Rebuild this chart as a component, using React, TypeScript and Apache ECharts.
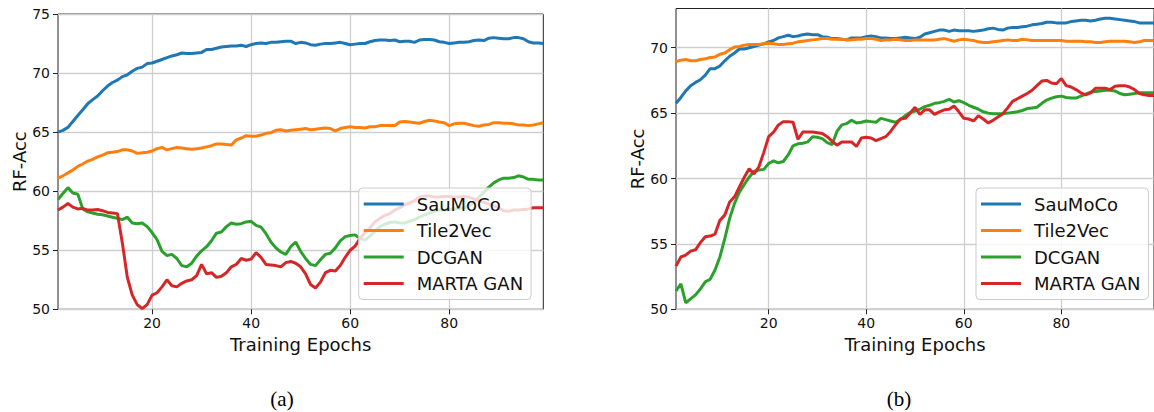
import React, { useEffect, useRef } from "react";
import * as echarts from "echarts";

const epochs = Array.from({ length: 99 }, (_, i) => i + 1);
const seriesNames = ["SauMoCo", "Tile2Vec", "DCGAN", "MARTA GAN"];
const seriesColors = ["#1f77b4", "#ff7f0e", "#2ca02c", "#d62728"];
const xTicks = [20, 40, 60, 80];
const yTicksA = [50, 55, 60, 65, 70, 75];
const yTicksB = [50, 55, 60, 65, 70];
const captions = ["(a)", "(b)"];

// Chart (a)
const aSauMoCo = [65.0, 65.15, 65.4, 65.9, 66.4, 66.9, 67.4, 67.75, 68.05, 68.5, 68.9, 69.2, 69.4, 69.7, 69.85, 70.15, 70.4, 70.5, 70.8, 70.85, 71.0, 71.15, 71.3, 71.45, 71.55, 71.7, 71.65, 71.65, 71.7, 71.75, 72.0, 72.0, 72.1, 72.2, 72.25, 72.3, 72.3, 72.35, 72.25, 72.4, 72.5, 72.55, 72.5, 72.6, 72.6, 72.65, 72.7, 72.7, 72.5, 72.6, 72.55, 72.4, 72.35, 72.45, 72.5, 72.5, 72.55, 72.6, 72.5, 72.4, 72.45, 72.5, 72.5, 72.65, 72.75, 72.8, 72.8, 72.75, 72.8, 72.65, 72.7, 72.7, 72.6, 72.8, 72.85, 72.85, 72.8, 72.65, 72.6, 72.5, 72.55, 72.6, 72.6, 72.65, 72.75, 72.8, 72.75, 72.95, 73.0, 72.95, 72.9, 72.9, 73.0, 73.0, 72.9, 72.65, 72.55, 72.55, 72.5];
const aTile2Vec = [61.1, 61.3, 61.55, 61.8, 62.1, 62.3, 62.55, 62.7, 62.9, 63.05, 63.25, 63.3, 63.35, 63.5, 63.5, 63.4, 63.2, 63.25, 63.3, 63.4, 63.6, 63.7, 63.5, 63.6, 63.7, 63.65, 63.6, 63.55, 63.6, 63.65, 63.75, 63.85, 64.0, 64.0, 63.95, 63.9, 64.35, 64.5, 64.7, 64.65, 64.65, 64.75, 64.9, 64.95, 65.15, 65.2, 65.1, 65.15, 65.2, 65.25, 65.3, 65.2, 65.25, 65.3, 65.35, 65.3, 65.1, 65.3, 65.4, 65.45, 65.4, 65.4, 65.35, 65.45, 65.45, 65.55, 65.55, 65.55, 65.55, 65.85, 65.9, 65.85, 65.8, 65.75, 65.9, 66.0, 65.95, 65.85, 65.8, 65.55, 65.7, 65.75, 65.75, 65.65, 65.55, 65.5, 65.6, 65.65, 65.8, 65.8, 65.75, 65.75, 65.7, 65.6, 65.6, 65.55, 65.6, 65.7, 65.8];
const aDCGAN = [59.3, 59.8, 60.3, 59.85, 59.75, 58.5, 58.25, 58.15, 58.05, 58.0, 57.9, 57.8, 57.7, 57.6, 57.8, 57.3, 57.25, 57.3, 57.0, 56.5, 55.9, 54.9, 54.55, 54.65, 54.3, 53.7, 53.6, 53.9, 54.5, 54.95, 55.3, 55.8, 56.45, 56.55, 57.0, 57.3, 57.2, 57.25, 57.4, 57.45, 57.1, 56.95, 56.4, 55.7, 55.2, 54.85, 54.65, 55.3, 55.7, 54.9, 54.3, 53.8, 53.7, 54.2, 54.65, 54.75, 55.2, 55.8, 56.15, 56.25, 56.3, 56.0, 55.85, 56.2, 56.6, 57.0, 57.2, 57.35, 57.4, 57.3, 57.3, 57.45, 57.6, 57.8, 58.0, 58.15, 58.3, 58.4, 58.4, 58.45, 58.5, 58.55, 58.6, 58.75, 59.1, 59.5, 59.9, 60.35, 60.7, 60.95, 61.1, 61.1, 61.15, 61.3, 61.2, 61.0, 61.0, 60.95, 60.95];
const aMartaGan = [58.4, 58.65, 58.95, 58.65, 58.5, 58.55, 58.4, 58.4, 58.45, 58.35, 58.2, 58.15, 58.1, 55.6, 52.7, 51.2, 50.4, 50.05, 50.4, 51.2, 51.4, 51.9, 52.5, 52.0, 51.9, 52.2, 52.4, 52.5, 52.85, 53.8, 53.0, 53.1, 52.7, 52.8, 53.1, 53.6, 53.8, 54.3, 54.15, 54.25, 54.8, 54.4, 53.8, 53.75, 53.7, 53.6, 53.95, 54.05, 53.9, 53.6, 53.0, 52.1, 51.8, 52.3, 53.1, 53.3, 53.25, 53.7, 54.4, 55.0, 55.35, 56.0, 56.5, 56.9, 57.4, 57.7, 57.95, 58.1, 58.4, 58.6, 58.85, 59.0, 59.2, 59.5, 59.6, 59.6, 59.5, 59.5, 59.55, 59.55, 59.5, 59.5, 59.55, 59.5, 59.35, 59.2, 59.05, 58.9, 58.75, 58.6, 58.35, 58.3, 58.4, 58.4, 58.45, 58.5, 58.6, 58.6, 58.6];

// Chart (b)
const bSauMoCo = [65.75, 66.2, 66.7, 67.1, 67.35, 67.55, 67.9, 68.4, 68.4, 68.6, 69.0, 69.35, 69.6, 69.9, 69.9, 70.0, 70.1, 70.2, 70.3, 70.45, 70.55, 70.75, 70.85, 70.95, 70.85, 70.9, 71.0, 71.05, 71.0, 71.0, 70.85, 70.8, 70.7, 70.7, 70.65, 70.6, 70.75, 70.75, 70.75, 70.85, 70.9, 70.85, 70.75, 70.75, 70.7, 70.7, 70.75, 70.8, 70.75, 70.7, 70.8, 71.05, 71.15, 71.25, 71.35, 71.35, 71.25, 71.35, 71.3, 71.3, 71.3, 71.25, 71.3, 71.35, 71.45, 71.5, 71.4, 71.35, 71.5, 71.55, 71.55, 71.6, 71.65, 71.75, 71.8, 71.85, 71.95, 71.95, 71.9, 71.9, 71.9, 72.0, 72.05, 72.1, 72.1, 72.05, 72.1, 72.2, 72.25, 72.25, 72.2, 72.15, 72.1, 72.05, 72.0, 71.9, 71.9, 71.9, 71.9];
const bTile2Vec = [68.95, 69.05, 69.1, 69.0, 69.0, 69.1, 69.15, 69.25, 69.3, 69.5, 69.6, 69.85, 70.05, 70.1, 70.2, 70.25, 70.25, 70.25, 70.3, 70.35, 70.3, 70.25, 70.25, 70.3, 70.35, 70.45, 70.5, 70.55, 70.6, 70.65, 70.7, 70.7, 70.65, 70.65, 70.65, 70.6, 70.6, 70.65, 70.65, 70.7, 70.7, 70.65, 70.55, 70.6, 70.6, 70.65, 70.6, 70.55, 70.55, 70.6, 70.6, 70.6, 70.6, 70.6, 70.65, 70.7, 70.6, 70.5, 70.6, 70.65, 70.6, 70.55, 70.45, 70.4, 70.4, 70.45, 70.5, 70.55, 70.6, 70.55, 70.55, 70.65, 70.6, 70.55, 70.55, 70.55, 70.55, 70.55, 70.55, 70.55, 70.5, 70.5, 70.5, 70.5, 70.45, 70.45, 70.4, 70.4, 70.45, 70.5, 70.5, 70.5, 70.5, 70.45, 70.4, 70.45, 70.55, 70.55, 70.55];
const bDCGAN = [51.4, 51.95, 50.5, 50.8, 51.1, 51.55, 52.1, 52.3, 53.0, 54.0, 55.4, 56.95, 58.1, 58.95, 59.55, 60.1, 60.55, 60.65, 60.7, 61.15, 61.35, 61.2, 61.3, 61.8, 62.5, 62.65, 62.7, 62.8, 63.2, 63.15, 63.05, 62.75, 62.6, 63.6, 64.1, 64.2, 64.45, 64.25, 64.3, 64.4, 64.35, 64.3, 64.6, 64.5, 64.4, 64.3, 64.5, 64.8, 65.05, 65.15, 65.3, 65.5, 65.6, 65.75, 65.8, 65.9, 66.05, 65.85, 65.95, 65.8, 65.6, 65.45, 65.3, 65.1, 65.0, 64.95, 64.95, 64.95, 65.0, 65.05, 65.1, 65.2, 65.35, 65.4, 65.45, 65.75, 66.0, 66.15, 66.25, 66.3, 66.2, 66.15, 66.15, 66.3, 66.45, 66.6, 66.65, 66.7, 66.75, 66.75, 66.7, 66.5, 66.4, 66.45, 66.5, 66.55, 66.55, 66.55, 66.55];
const bMartaGan = [53.3, 54.0, 54.15, 54.45, 54.55, 55.1, 55.55, 55.6, 55.75, 56.8, 57.2, 58.2, 58.6, 59.35, 60.1, 60.75, 60.35, 60.9, 62.0, 63.2, 63.55, 64.1, 64.35, 64.35, 64.3, 63.0, 63.55, 63.55, 63.55, 63.5, 63.45, 63.2, 62.85, 62.55, 62.8, 62.8, 62.8, 62.45, 63.1, 63.15, 63.1, 62.9, 63.05, 63.2, 63.6, 64.1, 64.55, 64.6, 65.0, 65.45, 64.9, 65.25, 65.25, 64.9, 65.1, 65.25, 65.3, 65.55, 65.1, 64.6, 64.55, 64.4, 64.8, 64.55, 64.25, 64.45, 64.7, 64.95, 65.4, 65.9, 66.1, 66.3, 66.5, 66.75, 67.1, 67.45, 67.5, 67.3, 67.25, 67.65, 67.1, 67.0, 66.8, 66.55, 66.4, 66.55, 66.9, 66.9, 66.9, 66.8, 67.05, 67.1, 67.1, 67.0, 66.8, 66.5, 66.4, 66.35, 66.35];

const chartA = [aSauMoCo, aTile2Vec, aDCGAN, aMartaGan];
const chartB = [bSauMoCo, bTile2Vec, bDCGAN, bMartaGan];

const FONT = "'DejaVu Sans', sans-serif";
const AXIS_COLOR = "#222";
const GRID_COLOR = "#cfcfcf";

function toPairs(vals: number[]) {
  return vals.map((v, i) => [epochs[i], v]);
}

function makeXAxis(gridIndex: number) {
  return {
    type: "value",
    gridIndex,
    min: 1,
    max: 99,
    axisLine: { show: false },
    axisTick: { show: true, customValues: xTicks, length: 5, lineStyle: { color: AXIS_COLOR, width: 1 } },
    axisLabel: { customValues: xTicks, fontSize: 14, color: "#111", margin: 7, fontFamily: FONT },
    splitLine: { show: true, customValues: xTicks, lineStyle: { color: GRID_COLOR, width: 1.3 } },
    name: "Training Epochs",
    nameLocation: "middle",
    nameGap: 23,
    nameTextStyle: { fontSize: 18, color: "#111", fontFamily: FONT },
  };
}

function makeYAxis(gridIndex: number, max: number, ticks: number[]) {
  return {
    type: "value",
    gridIndex,
    min: 50,
    max,
    axisLine: { show: false },
    axisTick: { show: true, customValues: ticks, length: 5, lineStyle: { color: AXIS_COLOR, width: 1 } },
    axisLabel: { customValues: ticks, fontSize: 14, color: "#111", margin: 8, fontFamily: FONT },
    splitLine: { show: true, customValues: ticks, lineStyle: { color: GRID_COLOR, width: 1.3 } },
    name: "RF-Acc",
    nameLocation: "middle",
    nameGap: 30,
    nameRotate: 90,
    nameTextStyle: { fontSize: 18, color: "#111", fontFamily: FONT },
  };
}

function makeLegend(left: number) {
  return {
    orient: "vertical",
    left,
    top: 188,
    icon: "rect",
    itemWidth: 40,
    itemHeight: 3,
    itemGap: 8.5,
    padding: [7, 8, 7, 5],
    backgroundColor: "rgba(255,255,255,0.8)",
    borderColor: "#cccccc",
    borderWidth: 1,
    borderRadius: 4,
    textStyle: { fontSize: 18, color: "#111", fontFamily: FONT, padding: [0, 0, 0, 8] },
    data: seriesNames,
    selectedMode: false,
  };
}

export default function App() {
  const ref = useRef<HTMLDivElement>(null);
  useEffect(() => {
    document.body.style.margin = "0";
    if (!ref.current) return;
    const chart = echarts.init(ref.current, null, { renderer: "svg" });
    const series: any[] = [];
    [chartA, chartB].forEach((group, gi) => {
      group.forEach((vals, si) => {
        series.push({
          type: "line",
          name: seriesNames[si],
          xAxisIndex: gi,
          yAxisIndex: gi,
          data: toPairs(vals),
          symbol: "none",
          color: seriesColors[si],
          lineStyle: { width: 3, color: seriesColors[si] },
          z: 3,
        });
      });
    });
    chart.setOption({
      animation: false,
      textStyle: { fontFamily: FONT },
      grid: [
        { left: 58, top: 14, width: 485.3, height: 295.3, show: true, borderColor: AXIS_COLOR, borderWidth: 1, backgroundColor: "transparent", containLabel: false },
        { left: 676, top: 8.5, width: 484.6, height: 300.8, show: true, borderColor: AXIS_COLOR, borderWidth: 1, backgroundColor: "transparent", containLabel: false },
      ],
      xAxis: [makeXAxis(0), makeXAxis(1)],
      yAxis: [makeYAxis(0, 75, yTicksA), makeYAxis(1, 73, yTicksB)],
      legend: [makeLegend(358.7), makeLegend(976)],
      series,
      graphic: [
        { type: "text", x: 282, y: 399, style: { text: captions[0], font: "21px 'Liberation Serif', serif", fill: "#000", align: "center", verticalAlign: "middle" } },
        { type: "text", x: 899, y: 399, style: { text: captions[1], font: "21px 'Liberation Serif', serif", fill: "#000", align: "center", verticalAlign: "middle" } },
      ],
    });
    return () => chart.dispose();
  }, []);
  return <div ref={ref} style={{ width: 1154, height: 412 }} />;
}
